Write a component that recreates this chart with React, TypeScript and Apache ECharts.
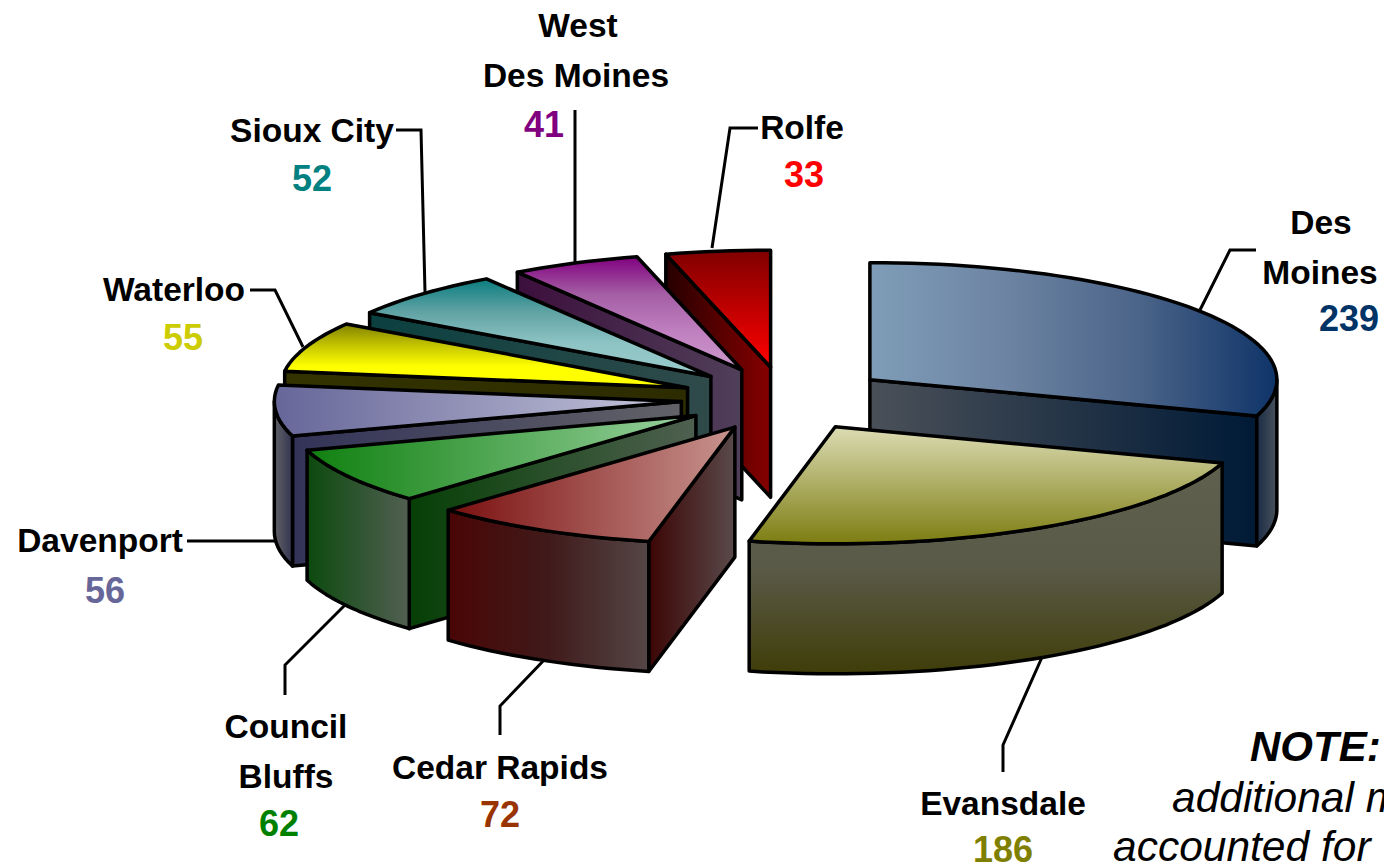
import React, { useEffect, useRef } from "react";
import * as echarts from "echarts";

const cities = ["Des Moines", "Evansdale", "Cedar Rapids", "Council Bluffs", "Davenport", "Waterloo", "Sioux City", "West Des Moines", "Rolfe"];
const counts = [239, 186, 72, 62, 56, 55, 52, 41, 33];
const drawOrder = [8, 7, 6, 5, 4, 3, 2, 0, 1];
const explode = [1.03, 1, 1, 1, 1, 1, 1, 1, 1];

// horizontal (h) or vertical (v) gradient for each slice's faces, colours evenly spaced
const topFill: string[][] = [
  ["h", "#7f9db8", "#6d84a2", "#4a6388", "#0f3468"],
  ["v", "#dcdcb4", "#7d7d12"],
  ["h", "#7a0f0f", "#c8948f"],
  ["h", "#0f800f", "#9ad2a0"],
  ["h", "#666699", "#c6c6dc"],
  ["v", "#808000", "#c4c400", "#ffff00", "#ffff00"],
  ["v", "#0a7c7e", "#5fa2a4", "#8fc4c4", "#99cccc"],
  ["v", "#800080", "#a55fa5", "#c080c0", "#cc99cc"],
  ["v", "#800000", "#ff0000"],
];
const cutFill: string[][] = [
  ["h", "#4a5058", "#001a36"],
  ["h", "#555555", "#555555"],
  ["h", "#3c0505", "#5a4a4a"],
  ["h", "#063f06", "#4f6050"],
  ["h", "#333358", "#626268"],
  ["h", "#333300", "#2c2c00"],
  ["h", "#0b4040", "#304a4a"],
  ["h", "#3c0f3c", "#503f5a"],
  ["h", "#260000", "#860000"],
];
const wallFill: string[][] = [
  ["h", "#1c2c46", "#48525c"],
  ["v", "#60604f", "#5a5a48", "#3f3d08"],
  ["h", "#4a0505", "#401a1a", "#554646"],
  ["h", "#0c4a0e", "#525f52"],
  ["h", "#626268", "#333350"],
  ["h", "#333300", "#333300"],
  ["h", "#0b4040", "#0b4040"],
  ["h", "#3c0f3c", "#3c0f3c"],
  ["h", "#260000", "#260000"],
];

const nameTexts: [string, number, number][] = [
  ["Des", 1321, 222],
  ["Moines", 1320, 272],
  ["Evansdale", 1003, 803],
  ["Cedar Rapids", 500, 767],
  ["Council", 286, 726],
  ["Bluffs", 286, 776],
  ["Davenport", 100, 540],
  ["Waterloo", 174, 289],
  ["Sioux City", 312, 130],
  ["West", 578, 25],
  ["Des Moines", 576, 75],
  ["Rolfe", 802, 127],
];
const countTexts: [string, number, number, string][] = [
  ["239", 1349, 318, "#003366"],
  ["186", 1003, 849, "#808000"],
  ["72", 500, 814, "#993300"],
  ["62", 279, 823, "#008000"],
  ["56", 105, 590, "#666699"],
  ["55", 183, 337, "#cccc00"],
  ["52", 312, 178, "#008080"],
  ["41", 544, 124, "#800080"],
  ["33", 804, 174, "#ff0000"],
];
const leaders: number[][][] = [
  [[1200, 310], [1230, 250], [1256, 250]],
  [[1043, 655], [1003, 745], [1003, 772]],
  [[546, 658], [500, 706], [500, 735]],
  [[347, 603], [285, 665], [285, 695]],
  [[275, 541], [187, 541]],
  [[303, 347], [275, 290], [250, 290]],
  [[425, 292], [421, 130], [396, 130]],
  [[575, 262], [575, 110]],
  [[712, 248], [730, 128], [758, 128]],
];
const noteTexts: [string, number, number, string][] = [
  ["NOTE:", 1250, 746, "italic bold 42px 'Liberation Sans'"],
  ["additional m", 1172, 797, "italic 42.5px 'Liberation Sans'"],
  ["accounted for", 1113, 846, "italic 42.5px 'Liberation Sans'"],
];

const CX = 784, CY = 399, RX = 407, RY = 117, DEPTH = 130, EX = 103, EY = 32;
const total = counts.reduce((a, b) => a + b, 0);
const rad = (d: number) => (d * Math.PI) / 180;

function grad(def: string[]) {
  const [dir, ...colors] = def;
  return new echarts.graphic.LinearGradient(
    0, 0, dir === "h" ? 1 : 0, dir === "v" ? 1 : 0,
    colors.map((color, k) => ({ offset: k / (colors.length - 1), color }))
  );
}

function renderSlice(_params: any, api: any) {
  const i = api.value(0) as number;
  const before = counts.slice(0, i).reduce((a, b) => a + b, 0);
  const a0 = (before / total) * 360;
  const a1 = a0 + (api.value(1) / total) * 360;
  const mid = (a0 + a1) / 2;
  const ax = CX + EX * explode[i] * Math.sin(rad(mid));
  const ay = CY - EY * explode[i] * Math.cos(rad(mid));
  const pt = (a: number, dy = 0) => [ax + RX * Math.sin(rad(a)), ay - RY * Math.cos(rad(a)) + dy];
  const arc = (from: number, to: number, dy = 0) => {
    const n = Math.max(2, Math.ceil((to - from) / 2));
    return Array.from({ length: n + 1 }, (_, k) => pt(from + ((to - from) * k) / n, dy));
  };
  const line = { stroke: "#000", lineWidth: 3.5, lineJoin: "round" };
  const poly = (points: number[][], fill: any) => ({
    type: "polygon",
    shape: { points },
    style: { fill, ...line },
  });
  const children: any[] = [];
  const apex = [ax, ay], apexLow = [ax, ay + DEPTH];
  if (Math.sin(rad(a0)) < -1e-6) {
    children.push(poly([apex, pt(a0), pt(a0, DEPTH), apexLow], grad(cutFill[i])));
  }
  if (Math.sin(rad(a1)) > 1e-6) {
    children.push(poly([apex, pt(a1), pt(a1, DEPTH), apexLow], grad(cutFill[i])));
  }
  const w0 = Math.max(a0, 90), w1 = Math.min(a1, 270);
  if (w1 > w0) {
    children.push(poly([...arc(w0, w1), ...arc(w0, w1, DEPTH).reverse()], grad(wallFill[i])));
  }
  children.push(poly([apex, ...arc(a0, a1)], grad(topFill[i])));
  return { type: "group", children };
}

export default function App() {
  const ref = useRef<HTMLDivElement>(null);
  useEffect(() => {
    document.body.style.margin = "0";
    document.body.style.overflow = "hidden";
    const chart = echarts.init(ref.current!, undefined, { renderer: "svg" });
    chart.setOption({
      animation: false,
      graphic: [
        ...leaders.map((points) => ({
          type: "polyline",
          shape: { points },
          style: { stroke: "#000", lineWidth: 3, fill: "none" },
        })),
        ...nameTexts.map(([text, x, y]) => ({
          type: "text",
          x,
          y,
          style: { text, fill: "#000", font: "bold 33.5px 'Liberation Sans'", align: "center", verticalAlign: "middle" },
        })),
        ...countTexts.map(([text, x, y, fill]) => ({
          type: "text",
          x,
          y,
          style: { text, fill, font: "bold 36px 'Liberation Sans'", align: "center", verticalAlign: "middle" },
        })),
        ...noteTexts.map(([text, x, y, font]) => ({
          type: "text",
          x,
          y,
          style: { text, fill: "#000", font, align: "left", verticalAlign: "middle" },
        })),
      ],
      series: [
        {
          type: "custom",
          name: "Cities",
          coordinateSystem: "none",
          renderItem: renderSlice,
          data: drawOrder.map((i) => ({ name: cities[i], value: [i, counts[i]] })),
          silent: true,
        },
      ],
    });
    return () => chart.dispose();
  }, []);
  return <div ref={ref} style={{ width: 1384, height: 868, overflow: "hidden", background: "#fff" }} />;
}
